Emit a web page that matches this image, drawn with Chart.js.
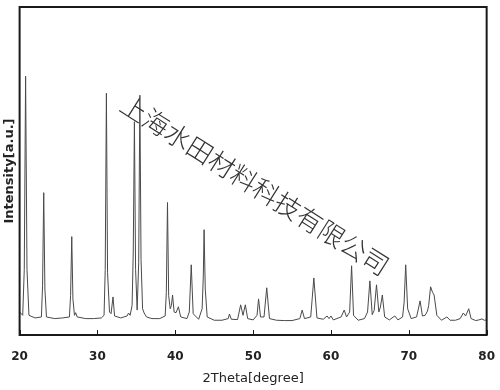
<!DOCTYPE html>
<html>
<head>
<meta charset="utf-8">
<script src="https://cdn.jsdelivr.net/npm/chart.js@4.4.1/dist/chart.umd.min.js"></script>
<style>
  html, body { margin: 0; background: #fff; }
</style>
</head>
<body>
<canvas id="xrd" width="500" height="390"></canvas>
<script>
// XRD pattern points (2theta in degrees, intensity in a.u.)
const twoTheta = [
  20.0, 20.4, 20.6, 20.77, 20.95, 21.2, 22.0, 22.8, 22.95, 23.1, 23.25, 23.45,
  24.5, 25.5, 26.4, 26.55, 26.7, 26.85, 27.05, 27.2, 27.4, 28.5, 29.5, 30.5,
  30.85, 31.0, 31.15, 31.3, 31.55, 31.75, 32.0, 32.2, 33.0, 33.8, 34.0, 34.2,
  34.45, 34.6, 34.75, 34.9, 35.1, 35.3, 35.45, 35.6, 35.8, 36.0, 36.3, 37.0,
  38.0, 38.7, 38.85, 39.0, 39.15, 39.35, 39.5, 39.65, 39.85, 40.1, 40.4, 40.7,
  41.5, 41.8, 42.05, 42.3, 43.0, 43.45, 43.6, 43.7, 43.85, 44.1, 45.0, 46.0,
  46.8, 46.96, 47.2, 48.0, 48.4, 48.7, 49.0, 49.3, 50.0, 50.5, 50.7, 50.95,
  51.4, 51.75, 52.1, 53.0, 54.0, 55.0, 56.0, 56.3, 56.6, 57.4, 57.8, 58.2,
  59.0, 59.5, 59.75, 60.0, 60.3, 61.3, 61.7, 62.0, 62.4, 62.65, 62.9, 63.5,
  64.3, 64.7, 65.0, 65.3, 65.55, 65.85, 66.15, 66.35, 66.6, 66.9, 67.5, 68.2,
  68.6, 69.2, 69.4, 69.6, 69.85, 70.3, 71.0, 71.45, 71.75, 72.1, 72.4, 72.55,
  72.8, 73.05, 73.25, 73.6, 74.2, 74.9, 75.3, 76.0, 76.6, 77.0, 77.3, 77.7,
  78.0, 78.6, 79.0, 79.4, 79.7, 80.0
];
const intensity = [
  70, 60, 200, 789, 200, 60, 52, 55, 150, 434, 140, 55,
  50, 52, 55, 120, 300, 110, 60, 68, 55, 50, 50, 52,
  60, 200, 737, 190, 70, 65, 116, 58, 52, 58, 67, 60,
  90, 250, 650, 200, 76, 220, 731, 230, 80, 67, 55, 50,
  50, 58, 130, 404, 120, 80, 90, 122, 70, 68, 86, 55,
  50, 70, 214, 65, 48, 80, 180, 321, 140, 55, 45, 45,
  50, 64, 48, 47, 92, 60, 92, 50, 46, 60, 110, 55,
  55, 144, 50, 45, 44, 44, 50, 76, 50, 55, 174, 52,
  48, 58, 50, 58, 46, 55, 76, 55, 70, 211, 60, 45,
  50, 70, 165, 62, 75, 153, 70, 85, 122, 55, 46, 58,
  46, 55, 100, 214, 80, 50, 55, 104, 58, 60, 73, 90,
  147, 130, 122, 60, 45, 55, 45, 45, 50, 67, 58, 80,
  50, 44, 46, 49, 45, 46
];
const xTicks = [20, 30, 40, 50, 60, 70, 80];
const watermark = "上海水田材料科技有限公司";

const points = twoTheta.map((t, i) => ({ x: t, y: intensity[i] }));

// frame box + inward tick marks on the bottom axis
const framePlugin = {
  id: "frame",
  afterDraw(chart) {
    const { ctx, chartArea: a, scales } = chart;
    ctx.save();
    ctx.strokeStyle = "#1a1a1a";
    ctx.lineWidth = 2;
    ctx.strokeRect(a.left, a.top, a.right - a.left, a.bottom - a.top);
    ctx.lineWidth = 1;
    xTicks.forEach((v) => {
      const px = Math.round(scales.x.getPixelForValue(v)) + 0.5;
      ctx.beginPath();
      ctx.moveTo(px, a.bottom);
      ctx.lineTo(px, a.bottom - 5);
      ctx.stroke();
    });
    ctx.restore();
  }
};

// diagonal company watermark
const watermarkPlugin = {
  id: "watermark",
  afterDraw(chart) {
    const ctx = chart.ctx;
    ctx.save();
    ctx.translate(255, 185);
    ctx.rotate(32.4 * Math.PI / 180);
    ctx.font = "300 26px 'Noto Sans CJK SC'";
    ctx.fillStyle = "#333";
    ctx.textAlign = "center";
    ctx.textBaseline = "middle";
    ctx.fillText(watermark, 0, 0);
    ctx.restore();
  }
};

new Chart(document.getElementById("xrd"), {
  type: "line",
  data: {
    datasets: [{
      data: points,
      borderColor: "#4a4a4a",
      borderWidth: 1,
      pointRadius: 0,
      tension: 0,
      fill: false
    }]
  },
  options: {
    responsive: false,
    animation: false,
    layout: { padding: { top: 7, right: 3, bottom: 4, left: 0 } },
    plugins: {
      legend: { display: false },
      tooltip: { enabled: false }
    },
    scales: {
      x: {
        type: "linear",
        min: 20,
        max: 80,
        afterBuildTicks: (s) => { s.ticks = xTicks.map((v) => ({ value: v })); },
        grid: {
          display: true,
          color: "rgba(0,0,0,0)",
          drawOnChartArea: false,
          drawTicks: true,
          tickLength: 10
        },
        border: { display: false },
        ticks: {
          padding: 5,
          color: "#222",
          font: { family: "DejaVu Sans", weight: "bold", size: 12 }
        },
        title: {
          display: true,
          text: "2Theta[degree]",
          color: "#222",
          padding: { top: 1, bottom: 0 },
          font: { family: "DejaVu Sans", size: 13 }
        }
      },
      y: {
        min: 0,
        max: 1000,
        grid: { display: false, drawTicks: false },
        border: { display: false },
        ticks: { display: false },
        title: {
          display: true,
          text: "Intensity[a.u.]",
          color: "#222",
          padding: { top: 2, bottom: 2 },
          font: { family: "DejaVu Sans", weight: "bold", size: 13 }
        }
      }
    }
  },
  plugins: [framePlugin, watermarkPlugin]
});
</script>
</body>
</html>
